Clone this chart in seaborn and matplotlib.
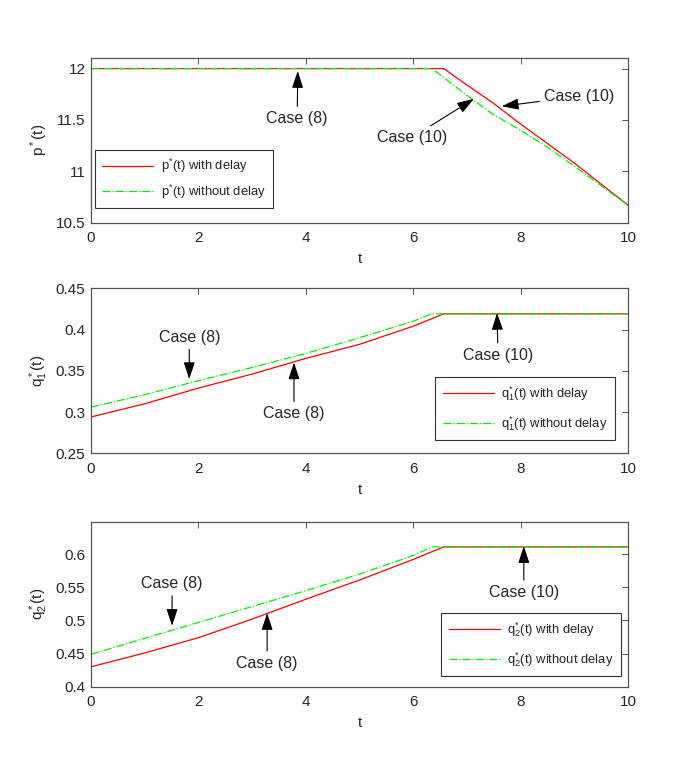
import numpy as np
import pandas as pd
import matplotlib
matplotlib.use('Agg')
import matplotlib.pyplot as plt
import seaborn as sns

sns.set_style('white')
plt.rcParams['font.family'] = ['Liberation Sans', 'DejaVu Sans']
plt.rcParams['mathtext.fontset'] = 'custom'
plt.rcParams['mathtext.rm'] = 'Liberation Sans'
plt.rcParams['mathtext.it'] = 'Liberation Sans'
plt.rcParams['font.size'] = 10

# values
p_t_delay = [0, 2, 4, 6, 6.57, 7, 7.5, 8, 8.5, 9, 9.5, 10]
p_delay = [12, 12, 12, 12, 12, 11.84, 11.66, 11.46, 11.27, 11.08, 10.875, 10.67]
p_t_nodelay = [0, 2, 4, 6, 6.35, 7, 7.5, 8, 8.5, 9, 9.5, 10]
p_nodelay = [12, 12, 12, 12, 12, 11.74, 11.55, 11.40, 11.235, 11.05, 10.86, 10.67]

q_t_delay = [0, 1, 2, 3, 4, 5, 6, 6.57, 7, 8, 9, 10]
q_t_nodelay = [0, 1, 2, 3, 4, 5, 6, 6.35, 7, 8, 9, 10]

q1_delay = [0.294, 0.310, 0.329, 0.346, 0.365, 0.382, 0.404, 0.419, 0.419, 0.419, 0.419, 0.419]
q1_nodelay = [0.306, 0.321, 0.338, 0.354, 0.371, 0.390, 0.410, 0.419, 0.419, 0.419, 0.419, 0.419]

q2_delay = [0.430, 0.451, 0.474, 0.502, 0.532, 0.561, 0.592, 0.611, 0.611, 0.611, 0.611, 0.611]
q2_nodelay = [0.449, 0.473, 0.497, 0.521, 0.545, 0.570, 0.598, 0.611, 0.611, 0.611, 0.611, 0.611]

panels = [
    dict(t1=p_t_delay, delay=p_delay, t2=p_t_nodelay, nodelay=p_nodelay,
         ylim=(10.5, 12.107),
         yticks=[10.5, 11, 11.5, 12], yticklabels=['10.5', '11', '11.5', '12'],
         ylabel=r'p$^*$(t)', lab=r'p$^{*}$(t)', loc='lower left',
         anchor=(0.0075, 0.089), lspace=0.55,
         notes=[('Case (8)', (3.84, 11.513), (3.85, 11.975)),
                ('Case (10)', (9.09, 11.73), (7.65, 11.633)),
                ('Case (10)', (5.98, 11.33), (7.13, 11.705))]),
    dict(t1=q_t_delay, delay=q1_delay, t2=q_t_nodelay, nodelay=q1_nodelay,
         ylim=(0.25, 0.45),
         yticks=[0.25, 0.3, 0.35, 0.4, 0.45], yticklabels=['0.25', '0.3', '0.35', '0.4', '0.45'],
         ylabel=r'q$_1^*$(t)', lab=r'q$_1^{*}$(t)', loc='lower right',
         anchor=(0.976, 0.081), lspace=0.85,
         notes=[('Case (8)', (1.83, 0.3906), (1.83, 0.340)),
                ('Case (8)', (3.78, 0.298), (3.78, 0.360)),
                ('Case (10)', (7.58, 0.369), (7.56, 0.420))]),
    dict(t1=q_t_delay, delay=q2_delay, t2=q_t_nodelay, nodelay=q2_nodelay,
         ylim=(0.4, 0.649),
         yticks=[0.4, 0.45, 0.5, 0.55, 0.6], yticklabels=['0.4', '0.45', '0.5', '0.55', '0.6'],
         ylabel=r'q$_2^*$(t)', lab=r'q$_2^{*}$(t)', loc='lower right',
         anchor=(0.987, 0.064), lspace=0.85,
         notes=[('Case (8)', (1.51, 0.5555), (1.51, 0.492)),
                ('Case (8)', (3.28, 0.4355), (3.28, 0.511)),
                ('Case (10)', (8.06, 0.5425), (8.06, 0.612))]),
]

fig = plt.figure(figsize=(6.92, 7.73), dpi=100)
bottoms = [0.712, 0.4136, 0.1116]
height = 0.2135
left, width = 0.1315, 0.776

for pnl, b in zip(panels, bottoms):
    ax = fig.add_axes([left, b, width, height])
    d1 = pd.DataFrame({'t': pnl['t1'], 'v': pnl['delay']})
    d2 = pd.DataFrame({'t': pnl['t2'], 'v': pnl['nodelay']})
    sns.lineplot(data=d1, x='t', y='v', color='#ff0000', lw=0.9, ax=ax,
                 label=pnl['lab'] + ' with delay')
    sns.lineplot(data=d2, x='t', y='v', color='#00ee00', lw=0.9, ls='-.', ax=ax,
                 label=pnl['lab'] + ' without delay')
    ax.set_xlim(0, 10)
    ax.set_ylim(*pnl['ylim'])
    ax.set_xticks([0, 2, 4, 6, 8, 10])
    ax.set_yticks(pnl['yticks'])
    ax.set_yticklabels(pnl['yticklabels'])
    ax.set_xlabel('t', fontsize=11, labelpad=5)
    ax.set_ylabel(pnl['ylabel'], fontsize=11, labelpad=4)
    ax.tick_params(direction='in', length=4, width=0.6, top=True, right=True,
                   labelsize=11, color='#333333')
    ax.tick_params(axis='x', pad=6)
    ax.tick_params(axis='y', pad=4)
    for s in ax.spines.values():
        s.set_color('#555555')
        s.set_linewidth(0.9)
    leg = ax.legend(loc=pnl['loc'], bbox_to_anchor=pnl['anchor'], fontsize=9.4,
                    frameon=True, fancybox=False, edgecolor='black',
                    handlelength=3.9, borderpad=0.55, labelspacing=pnl['lspace'],
                    borderaxespad=0, handletextpad=0.6)
    leg.get_frame().set_linewidth(0.8)
    for txt, xy_text, xy in pnl['notes']:
        ax.annotate(txt, xy=xy, xytext=xy_text, ha='center', va='center',
                    fontsize=11.5,
                    arrowprops=dict(arrowstyle='-|>,head_length=0.9,head_width=0.3',
                                    color='black', lw=0.8, shrinkA=1, shrinkB=0))

fig.savefig('out.png', dpi=100)
